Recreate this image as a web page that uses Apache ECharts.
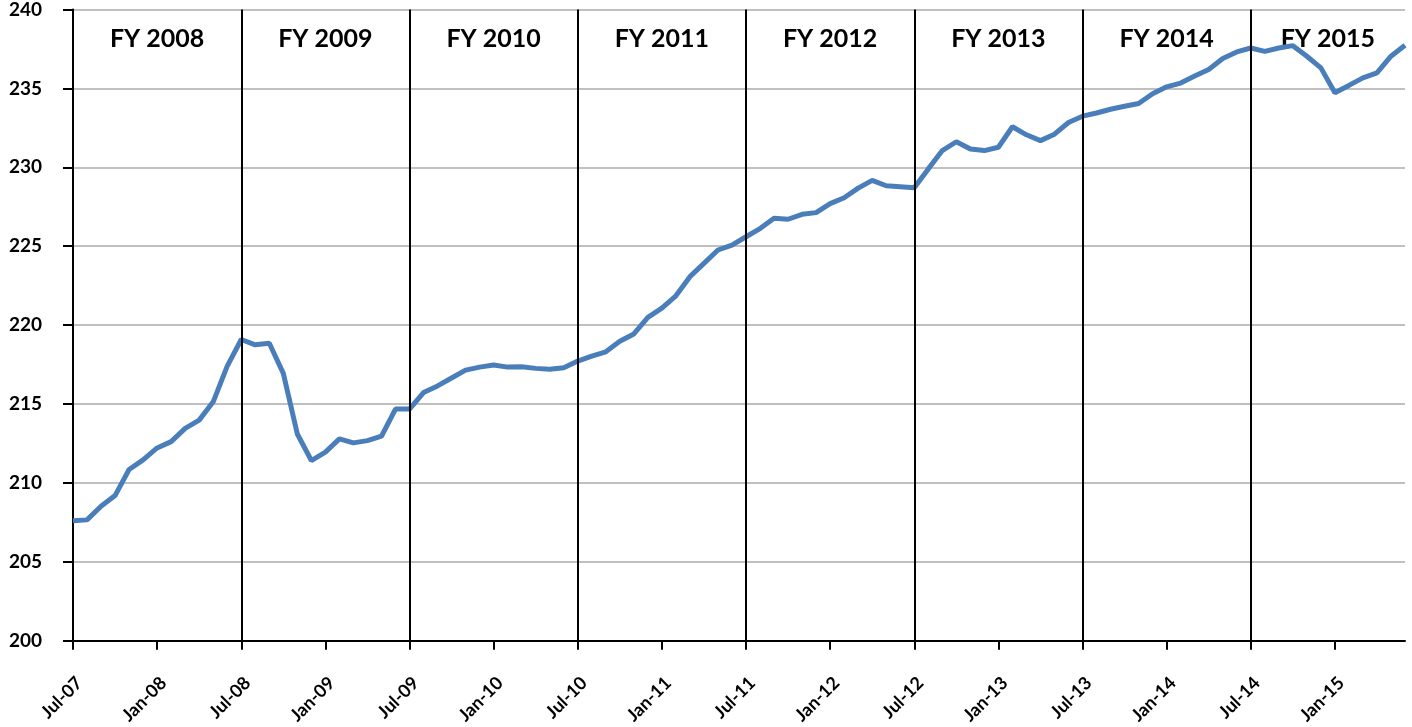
<!DOCTYPE html>
<html>
<head>
<meta charset="utf-8">
<script src="https://cdn.jsdelivr.net/npm/echarts@6/dist/echarts.min.js"></script>
<style>
html,body{margin:0;padding:0;background:#fff;}
#chart{width:1412px;height:727px;}
</style>
</head>
<body>
<div id="chart"></div>
<script>
const months = [
  'Jul-07','Aug-07','Sep-07','Oct-07','Nov-07','Dec-07','Jan-08','Feb-08','Mar-08','Apr-08','May-08','Jun-08',
  'Jul-08','Aug-08','Sep-08','Oct-08','Nov-08','Dec-08','Jan-09','Feb-09','Mar-09','Apr-09','May-09','Jun-09',
  'Jul-09','Aug-09','Sep-09','Oct-09','Nov-09','Dec-09','Jan-10','Feb-10','Mar-10','Apr-10','May-10','Jun-10',
  'Jul-10','Aug-10','Sep-10','Oct-10','Nov-10','Dec-10','Jan-11','Feb-11','Mar-11','Apr-11','May-11','Jun-11',
  'Jul-11','Aug-11','Sep-11','Oct-11','Nov-11','Dec-11','Jan-12','Feb-12','Mar-12','Apr-12','May-12','Jun-12',
  'Jul-12','Aug-12','Sep-12','Oct-12','Nov-12','Dec-12','Jan-13','Feb-13','Mar-13','Apr-13','May-13','Jun-13',
  'Jul-13','Aug-13','Sep-13','Oct-13','Nov-13','Dec-13','Jan-14','Feb-14','Mar-14','Apr-14','May-14','Jun-14',
  'Jul-14','Aug-14','Sep-14','Oct-14','Nov-14','Dec-14','Jan-15','Feb-15','Mar-15','Apr-15','May-15','Jun-15'
];
const values = [
  207.60,207.66,208.52,209.20,210.85,211.46,212.22,212.62,213.46,213.98,215.14,217.40,
  219.09,218.75,218.85,216.94,213.10,211.42,211.95,212.79,212.54,212.68,212.96,214.68,
  214.68,215.73,216.15,216.65,217.15,217.34,217.47,217.34,217.36,217.26,217.20,217.30,
  217.72,218.04,218.31,218.98,219.44,220.49,221.08,221.86,223.07,223.91,224.76,225.07,
  225.60,226.12,226.77,226.71,227.02,227.13,227.70,228.07,228.68,229.17,228.83,228.77,
  228.70,229.90,231.06,231.62,231.16,231.06,231.27,232.57,232.06,231.69,232.10,232.84,
  233.24,233.44,233.68,233.87,234.04,234.66,235.10,235.34,235.78,236.20,236.89,237.31,
  237.56,237.35,237.56,237.71,237.04,236.30,234.73,235.19,235.67,235.99,237.04,237.73
];
const fyLabels = ['FY 2008','FY 2009','FY 2010','FY 2011','FY 2012','FY 2013','FY 2014','FY 2015'];
const fyStarts = ['Jul-07','Jul-08','Jul-09','Jul-10','Jul-11','Jul-12','Jul-13','Jul-14'];
const fyEnds   = ['Jul-08','Jul-09','Jul-10','Jul-11','Jul-12','Jul-13','Jul-14','Jun-15'];
const fyDividers = ['Jul-08','Jul-09','Jul-10','Jul-11','Jul-12','Jul-13','Jul-14'];

const FONT = 'Lato, "Open Sans", sans-serif';
const chart = echarts.init(document.getElementById('chart'));
chart.setOption({
  animation: false,
  backgroundColor: '#fff',
  grid: {left: 73, right: 7, top: 8, bottom: 84, containLabel: false},
  xAxis: {
    type: 'category',
    data: months,
    boundaryGap: false,
    axisLine: {lineStyle: {color: '#000', width: 2}},
    axisTick: {show: true, interval: 5, length: 9, lineStyle: {color: '#000', width: 2}},
    axisLabel: {interval: 5, rotate: 45, margin: 33, align: 'right', verticalAlign: 'top', color: '#000', fontFamily: FONT, fontWeight: 'bold', fontSize: 18},
    splitLine: {show: false}
  },
  yAxis: {
    type: 'value',
    min: 200, max: 240, interval: 5,
    axisLine: {show: true, lineStyle: {color: '#000', width: 2}},
    axisTick: {show: true, length: 10, lineStyle: {color: '#000', width: 2}},
    axisLabel: {margin: 31, color: '#000', fontFamily: FONT, fontWeight: 'bold', fontSize: 19},
    splitLine: {show: true, lineStyle: {color: '#C0C0C0', width: 2}}
  },
  series: [{
    type: 'line',
    data: values,
    symbol: 'none',
    lineStyle: {color: '#4A7EBB', width: 5},
    z: 3,
    markLine: {
      silent: true,
      symbol: ['none', 'none'],
      label: {show: false},
      lineStyle: {color: '#000', width: 2, type: 'solid'},
      data: fyDividers.map(m => ({xAxis: m}))
    },
    markArea: {
      silent: true,
      itemStyle: {color: 'rgba(0,0,0,0)'},
      label: {show: true, position: 'insideTop', distance: 17, color: '#000', fontFamily: FONT, fontWeight: 'bold', fontSize: 25},
      data: fyLabels.map((name, i) => [{name: name, xAxis: fyStarts[i]}, {xAxis: fyEnds[i]}])
    }
  }]
});
</script>
</body>
</html>
